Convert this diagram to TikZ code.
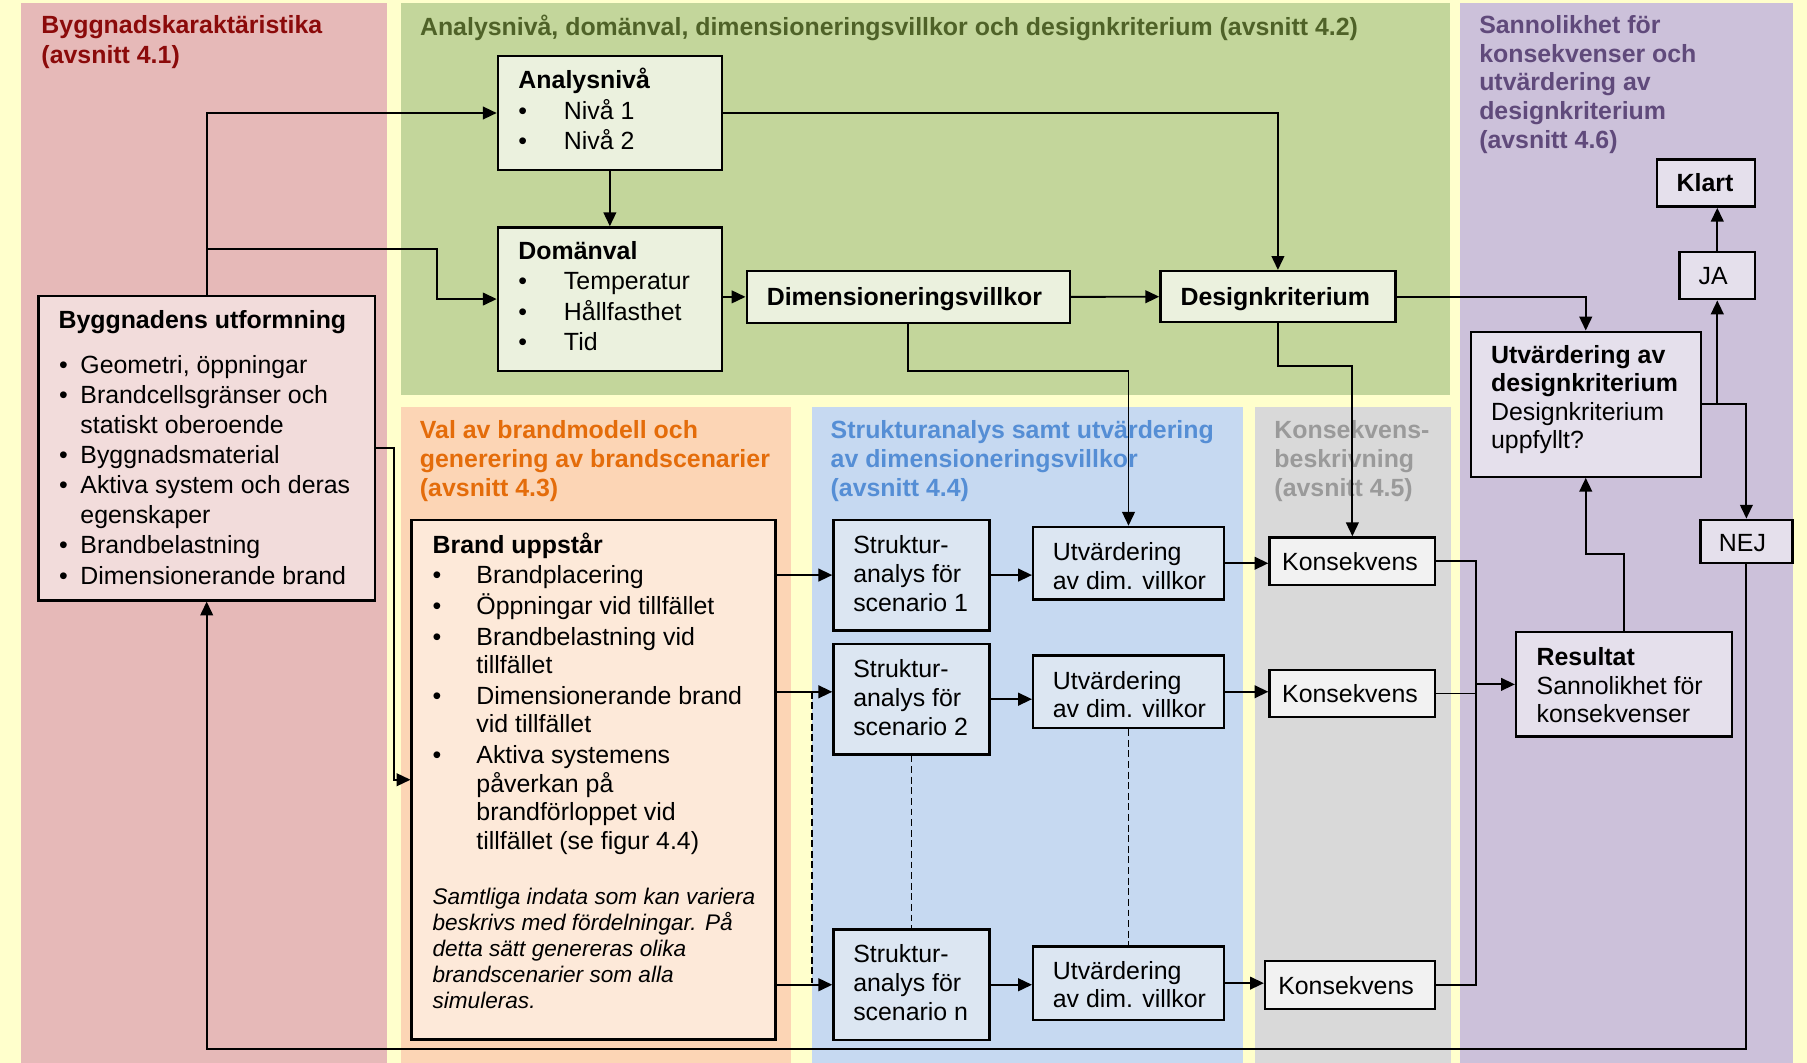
\documentclass[tikz,border=0pt]{standalone}
\usepackage{fontspec}
\setmainfont{Liberation Sans}
\usetikzlibrary{fit,arrows.meta}

% panel colours
\definecolor{bgYellow}{HTML}{FFFFCC}
\definecolor{pRed}{HTML}{E6B9B8}
\definecolor{pGreen}{HTML}{C3D69B}
\definecolor{pOrange}{HTML}{FCD5B5}
\definecolor{pBlue}{HTML}{C6D9F1}
\definecolor{pGray}{HTML}{D9D9D9}
\definecolor{pPurple}{HTML}{CCC1DA}
% box fills
\definecolor{fRed}{HTML}{F2DCDB}
\definecolor{fGreen}{HTML}{EBF1DE}
\definecolor{fOrange}{HTML}{FDE9D9}
\definecolor{fBlue}{HTML}{DCE6F2}
\definecolor{fGray}{HTML}{F2F2F2}
\definecolor{fPurple}{HTML}{E5E0EC}
% heading colours
\definecolor{tRed}{HTML}{8B0A0A}
\definecolor{tGreen}{HTML}{4F6228}
\definecolor{tOrange}{HTML}{E46C0A}
\definecolor{tBlue}{HTML}{558ED5}
\definecolor{tGray}{HTML}{9A9A9A}
\definecolor{tPurple}{HTML}{604A7B}

% lines of text stacked at a fixed baseline distance
\newcommand\stack[1]{\vtop{\lineskiplimit=-\maxdimen\lineskip=0pt\halign{##\hfil\cr#1\crcr}}}
% bullet item with a fixed indent
\newcommand\bul[2]{\hbox to #1{•\hfil}#2}
\newcommand\gap{\noalign{\vskip0.9pt}}

\tikzset{
  box/.style={draw=black, line width=1pt, inner sep=0pt},
  conn/.style={line width=0.82pt, -{Triangle[length=6pt,width=5.5pt]}},
  plain/.style={line width=0.82pt},
  dotted line/.style={line width=0.8pt, dash pattern=on 3pt off 1.6pt},
  txt/.style={inner sep=0pt, anchor=base west, font=\fontsize{10.8pt}{#1}\selectfont},
  txt/.default=13pt,
  itxt/.style={inner sep=0pt, anchor=base west, font=\fontsize{9.8pt}{11.3pt}\selectfont\itshape},
}

\begin{document}
\begin{tikzpicture}[x=0.5pt, y=-0.5pt]
\useasboundingbox (0,0) rectangle (1568,922);

% background and column panels
\fill[bgYellow] (0,0) rectangle (1568,922);
\fill[pRed] (18.6,2.9) rectangle (335.5,922);
\fill[pGreen] (348,2.9) rectangle (1258.5,342.8);
\fill[pOrange] (348,353.5) rectangle (686,922);
\fill[pBlue] (704.3,353.5) rectangle (1078.6,922);
\fill[pGray] (1088.8,353.5) rectangle (1258.7,922);
\fill[pPurple] (1267,2.9) rectangle (1556,922);

% panel headings
\node[txt=13.05pt, text=tRed] (h41) at (35.6,28.9)
  {\bfseries\stack{Byggnadskaraktäristika\cr(avsnitt 4.1)}};
\node[txt, text=tGreen] (h42) at (364.1,30.4)
  {\bfseries Analysnivå, domänval, dimensioneringsvillkor och designkriterium (avsnitt 4.2)};
\node[txt=12.675pt, text=tOrange] (h43) at (364,380.1)
  {\bfseries\stack{Val av brandmodell och\cr generering av brandscenarier\cr(avsnitt 4.3)}};
\node[txt=12.675pt, text=tBlue] (h44) at (720.4,380.5)
  {\bfseries\stack{Strukturanalys samt utvärdering\cr av dimensioneringsvillkor\cr(avsnitt 4.4)}};
\node[txt=12.675pt, text=tGray] (h45) at (1105.5,380.5)
  {\bfseries\stack{Konsekvens-\cr beskrivning\cr(avsnitt 4.5)}};
\node[txt=12.475pt, text=tPurple] (h46) at (1283.2,28.9)
  {\bfseries\stack{Sannolikhet för\cr konsekvenser och\cr utvärdering av\cr designkriterium\cr(avsnitt 4.6)}};

% boxes
\node[box, fill=fGreen, fit={(432,48.6) (626.4,147.5)}] (ana) {};
\node[box, fill=fGreen, fit={(432,197.3) (626.4,321.7)}] (dom) {};
\node[box, fill=fGreen, fit={(647.9,235.2) (928.4,280)}] (dim) {};
\node[box, fill=fGreen, fit={(1006.9,235.2) (1210.9,279.7)}] (des) {};
\node[box, fill=fRed, fit={(33.3,256.6) (325.4,521)}] (byg) {};
\node[box, fill=fOrange, fit={(357.2,451.2) (673,902)}] (brand) {};
\node[box, fill=fBlue, fit={(723.2,451) (858.7,547)}] (s1) {};
\node[box, fill=fBlue, fit={(723.2,558.8) (858.7,654.6)}] (s2) {};
\node[box, fill=fBlue, fit={(723.2,806.5) (858.7,902.5)}] (sn) {};
\node[box, fill=fBlue, fit={(896.5,457.2) (1062,520.3)}] (u1) {};
\node[box, fill=fBlue, fit={(896.5,568.7) (1062,631.8)}] (u2) {};
\node[box, fill=fBlue, fit={(896.5,821.2) (1062,885)}] (un) {};
\node[box, fill=fGray, fit={(1101.6,466.3) (1245.4,507.5)}] (k1) {};
\node[box, fill=fGray, fit={(1101.6,581.2) (1245.4,622.3)}] (k2) {};
\node[box, fill=fGray, fit={(1097.7,834) (1245.4,875.5)}] (kn) {};
\node[box, fill=fPurple, fit={(1276.2,287.8) (1475.8,413.6)}] (utvd) {};
\node[box, fill=fPurple, fit={(1437.6,138.3) (1523,179.3)}] (klart) {};
\node[box, fill=fPurple, fit={(1457.3,218.4) (1523,259.7)}] (ja) {};
\node[box, fill=fPurple, fit={(1475.5,451) (1555.3,488.7)}] (nej) {};
\node[box, fill=fPurple, fit={(1315.5,548.5) (1503,639.2)}] (res) {};

% box texts
\node[txt=13.35pt] (t-ana) at (449.5,76.7)
  {\stack{\textbf{Analysnivå}\cr\bul{19.75pt}{Nivå 1}\cr\bul{19.75pt}{Nivå 2}}};
\node[txt=13.2pt] (t-dom) at (449.5,225)
  {\stack{\textbf{Domänval}\cr\bul{19.75pt}{Temperatur}\cr\bul{19.75pt}{Hållfasthet}\cr\bul{19.75pt}{Tid}}};
\node[txt] (t-dim) at (665,264.7) {\bfseries Dimensioneringsvillkor};
\node[txt] (t-des) at (1024,264.7) {\bfseries Designkriterium};

\node[txt] (t-byg) at (50.4,284.9) {\bfseries Byggnadens utformning};
\node[txt=13.04pt] (t-bygl) at (51,324.2)
  {\stack{\bul{9.2pt}{Geometri, öppningar}\cr
          \bul{9.2pt}{Brandcellsgränser och}\cr
          \hskip9.2pt statiskt oberoende\cr
          \bul{9.2pt}{Byggnadsmaterial}\cr
          \bul{9.2pt}{Aktiva system och deras}\cr
          \hskip9.2pt egenskaper\cr
          \bul{9.2pt}{Brandbelastning}\cr
          \bul{9.2pt}{Dimensionerande brand}}};

\node[txt=12.4pt] (t-brand) at (375,479.9)
  {\stack{\textbf{Brand uppstår}\cr\gap
          \bul{19pt}{Brandplacering}\cr\gap
          \bul{19pt}{Öppningar vid tillfället}\cr\gap
          \bul{19pt}{Brandbelastning vid}\cr
          \hskip19pt tillfället\cr\gap
          \bul{19pt}{Dimensionerande brand}\cr
          \hskip19pt vid tillfället\cr\gap
          \bul{19pt}{Aktiva systemens}\cr
          \hskip19pt påverkan på\cr
          \hskip19pt brandförloppet vid\cr
          \hskip19pt tillfället (se figur 4.4)}};
\node[itxt] (t-brandnote) at (375,784.5)
  {\stack{Samtliga indata som kan variera\cr
          beskrivs med fördelningar. På\cr
          detta sätt genereras olika\cr
          brandscenarier som alla\cr
          simuleras.}};

\node[txt=12.65pt] (t-s1) at (740,479.9) {\stack{Struktur-\cr analys för\cr scenario 1}};
\node[txt=12.65pt] (t-s2) at (740,587.5) {\stack{Struktur-\cr analys för\cr scenario 2}};
\node[txt=12.65pt] (t-sn) at (740,835.1) {\stack{Struktur-\cr analys för\cr scenario n}};
\node[txt=12.3pt] (t-u1) at (913.2,486.5) {\stack{Utvärdering\cr av dim. villkor}};
\node[txt=12.3pt] (t-u2) at (913.2,598.4) {\stack{Utvärdering\cr av dim. villkor}};
\node[txt=12.3pt] (t-un) at (913.2,849.8) {\stack{Utvärdering\cr av dim. villkor}};
\node[txt] (t-k1) at (1112.2,494.6) {Konsekvens};
\node[txt] (t-k2) at (1112.2,609.4) {Konsekvens};
\node[txt] (t-kn) at (1108.8,862.6) {Konsekvens};

\node[txt=12.3pt] (t-utvd) at (1293.5,315.3)
  {\stack{\textbf{Utvärdering av}\cr\textbf{designkriterium}\cr Designkriterium\cr uppfyllt?}};
\node[txt=12.4pt] (t-res) at (1333,577.5)
  {\stack{\textbf{Resultat}\cr Sannolikhet för\cr konsekvenser}};
\node[txt, anchor=base] (t-klart) at (1479.5,166.3) {\bfseries Klart};
\node[txt, anchor=base] (t-ja) at (1486.5,246.7) {JA};
\node[txt, anchor=base] (t-nej) at (1512,478.7) {NEJ};

% helper points for bends
\coordinate (jog) at (378.9,216.1);
\coordinate (c2) at (0,600.3);
\coordinate (dA) at (704.3,600.3);
\coordinate (dB) at (704.3,853.4);
\coordinate (mx) at (1280.8,0);
\coordinate (bot) at (0,910.3);

% connectors: building design and analysis level
\draw[conn] (byg.north) |- (ana.west);
\draw[conn] (byg.north |- jog) -- (jog) |- (dom.west);
\draw[conn] (ana.south) -- (dom.north);
\draw[conn] (dom.east |- dim.west) -- (dim.west);
\draw[conn] (dim.east) -- (des.west);
\draw[conn] (ana.east) -| (des.north);
\draw[conn] (des.east) -| (utvd.north);
\draw[conn] (dim.south) -- ++(0,41) -| (u1.north);
\draw[conn] (des.south) -- ++(0,36.5) -| (k1.north);
\draw[conn] (byg.east) -- ++(15.5,0) |- (brand.west);

% connectors: fire scenarios
\draw[conn] (brand.east |- s1.west) -- (s1.west);
\draw[conn] (brand.east |- c2) -- (s2.west |- c2);
\draw[conn] (brand.east |- sn.west) -- (sn.west);
\draw[dotted line] (dA) -- (dB);
\draw[conn] (s1.east) -- (u1.west |- s1.east);
\draw[conn] (s2.east) -- (u2.west |- s2.east);
\draw[conn] (sn.east) -- (un.west |- sn.east);
\draw[dotted line] (s2.south) -- (sn.north);
\draw[dotted line] (u2.south) -- (un.north);
\draw[conn] (u1.east) -- (k1.west |- u1.east);
\draw[conn] (u2.east) -- (k2.west |- u2.east);
\draw[conn] (un.east) -- (kn.west |- un.east);

% connectors: consequences, result and evaluation
\draw[plain] (k1.east) -| (mx |- kn.east) -- (kn.east);
\draw[plain] (k2.east) -- (mx |- k2.east);
\draw[conn] (mx |- res.west) -- (res.west);
\draw[conn] (res.north) -- ++(0,-67) -| (utvd.south);
\draw[conn] (utvd.east) -| (ja.south);
\draw[conn] (utvd.east) -| (nej.north);
\draw[conn] (ja.north) -- (klart.south -| ja.north);
\draw[conn] (nej.south) -- (nej.south |- bot) -| (byg.south);
\end{tikzpicture}
\end{document}
